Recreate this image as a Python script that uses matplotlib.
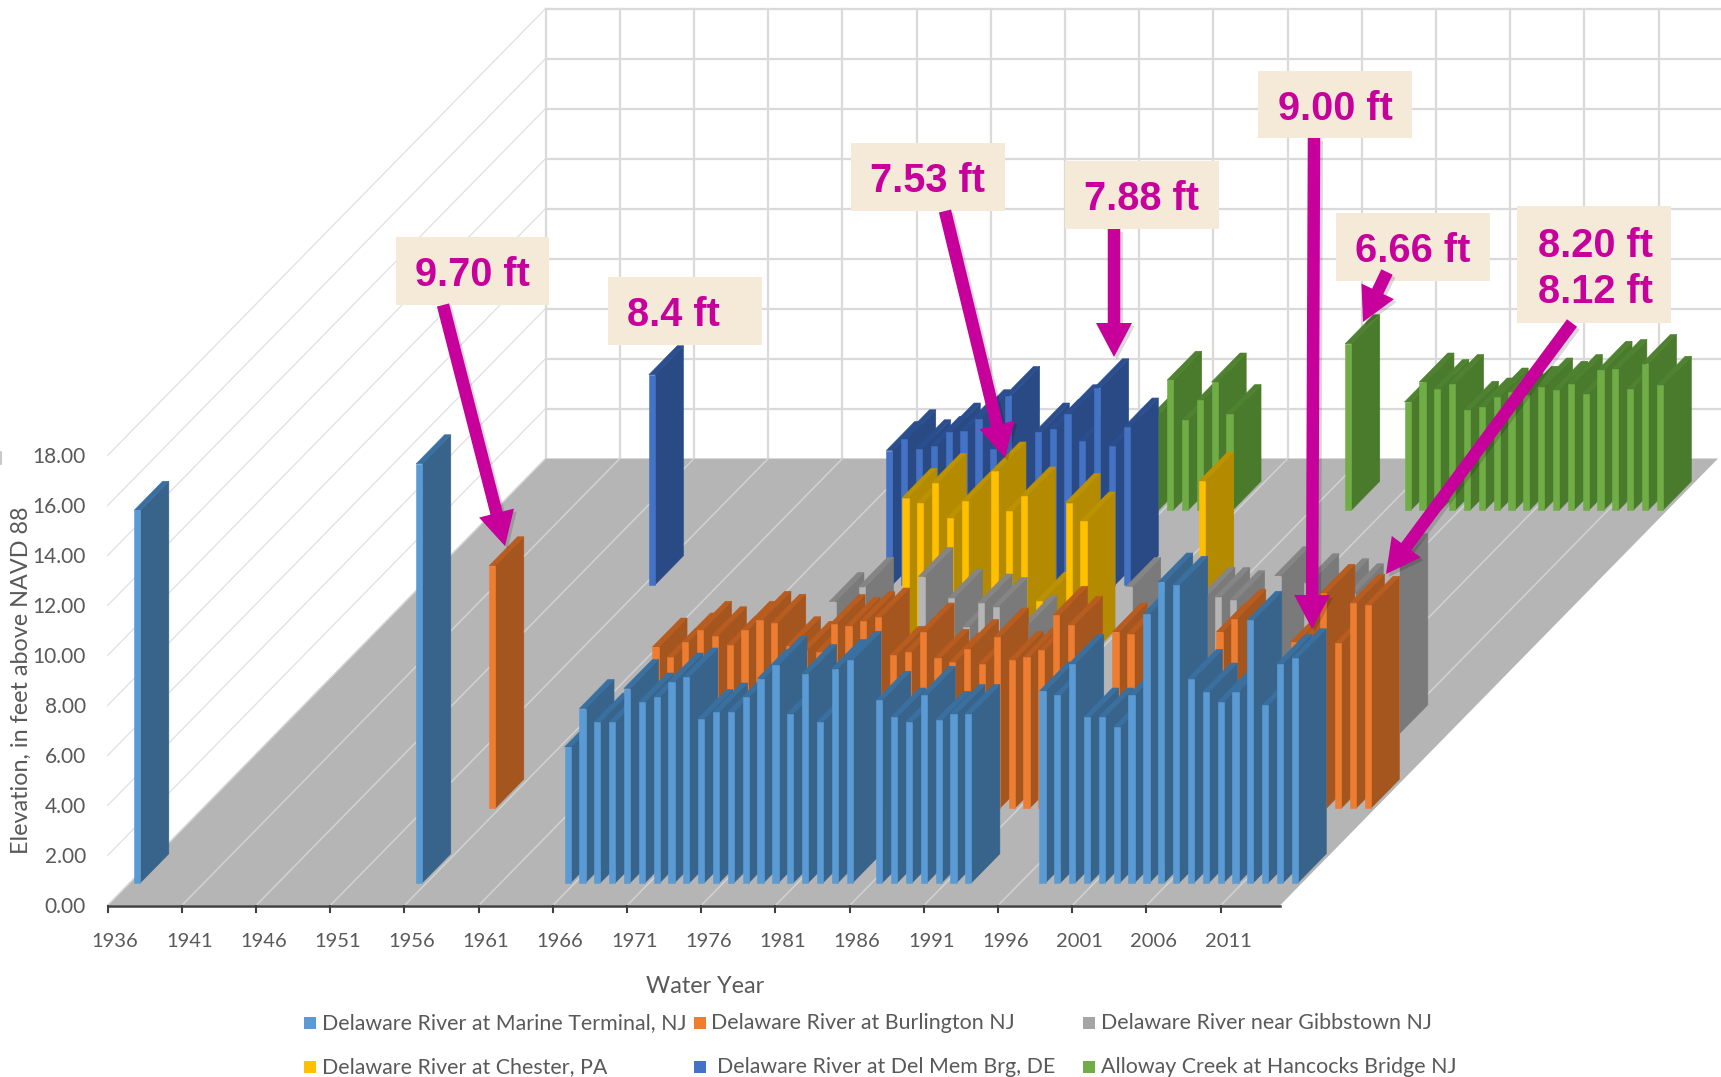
import matplotlib
matplotlib.use('Agg')
import matplotlib.pyplot as plt
import matplotlib.patheffects as pe
from matplotlib.patches import Polygon, Rectangle

# Peak water level per water year, feet above NAVD 88
marine_years = [1936, 1955] + list(range(1965, 1985)) + list(range(1986, 1993)) + list(range(1997, 2015))
marine_vals = [14.9, 16.76,
               5.43, 6.97, 6.43, 6.43, 7.77, 7.23, 7.43, 8.03, 8.23, 6.57,
               6.83, 6.83, 7.43, 8.17, 8.70, 6.77, 8.37, 6.43, 8.57, 8.90,
               7.30, 6.63, 6.43, 7.50, 6.50, 6.77, 6.77,
               7.67, 7.50, 8.77, 6.63, 6.63, 6.23, 7.50, 10.77, 12.03, 11.90,
               8.17, 7.63, 7.23, 7.63, 10.50, 7.10, 8.77, 9.00]

burlington_years = [1955, 1966, 1967, 1968, 1969, 1970, 1971, 1972, 1973, 1974, 1975, 1976, 1977,
                    1978, 1979, 1980, 1981, 1982, 1983, 1984, 1985, 1986, 1987, 1988, 1989, 1990,
                    1991, 1992, 1993, 1994, 1997, 1998, 2004, 2005, 2009, 2010, 2011, 2012, 2013, 2014]
burlington_vals = [9.70, 6.45, 6.05, 6.65, 7.12, 6.90, 6.52, 7.12, 7.52, 7.40, 6.50, 6.32, 6.25,
                   7.39, 7.28, 7.50, 7.65, 6.12, 6.25, 7.05, 6.00, 5.85, 6.39, 5.79, 6.85, 5.92,
                   6.05, 6.32, 7.72, 7.32, 7.05, 6.99, 7.05, 7.59, 6.65, 6.90, 8.60, 6.60, 8.20, 8.12]

gibbstown_years = [1973, 1975, 1979, 1981, 1982, 1983, 1984, 1986, 1993, 1998, 1999, 2000, 2003, 2005, 2007, 2008, 2011]
gibbstown_vals = [5.29, 5.89, 6.29, 5.43, 4.29, 5.23, 5.09, 4.36, 5.89, 5.50, 5.49, 5.36, 6.32, 6.04, 5.84, 5.64, 6.84]

chester_years = [1973, 1974, 1975, 1976, 1977, 1979, 1980, 1981, 1982, 1984, 1985, 1993]
chester_vals = [6.47, 6.27, 7.07, 5.67, 6.33, 7.53, 5.93, 6.53, 2.33, 6.27, 5.53, 7.13]

delmem_years = [1951, 1967, 1968, 1969, 1970, 1971, 1972, 1973, 1974, 1975, 1977, 1978, 1979, 1980, 1981, 1982, 1983]
delmem_vals = [8.40, 5.37, 5.84, 5.44, 5.57, 6.11, 6.17, 6.64, 5.44, 7.57, 6.11, 6.24, 6.84, 5.77, 7.88, 5.57, 6.31]

alloway_years = [1980, 1981, 1982, 1983, 1984, 1985, 1993] + list(range(1997, 2015))
alloway_vals = [3.84, 5.20, 3.60, 4.40, 5.13, 3.87, 6.66,
                4.33, 5.13, 4.87, 5.07, 4.00, 4.13, 4.53, 4.73, 4.60,
                4.93, 4.80, 5.07, 4.67, 5.60, 5.67, 4.87, 5.87, 5.00]

series_names = ['Delaware River at Marine Terminal, NJ', 'Delaware River at Burlington NJ',
                'Delaware River near Gibbstown NJ', 'Delaware River at Chester, PA',
                'Delaware River at Del Mem Brg, DE', 'Alloway Creek at Hancocks Bridge NJ']
series_years = [marine_years, burlington_years, gibbstown_years, chester_years, delmem_years, alloway_years]
series_vals = [marine_vals, burlington_vals, gibbstown_vals, chester_vals, delmem_vals, alloway_vals]

# front, side, top shades for each series
front_cols = ['#5B9BD5', '#ED7D31', '#B5B5B5', '#FFC000', '#4472C4', '#70AD47']
side_cols = ['#38648C', '#A5561F', '#7A7A7A', '#B38A00', '#2A4A86', '#4A7A2B']
top_cols = ['#3A70A0', '#B85C1F', '#858585', '#BC9200', '#2B4E8E', '#4F8230']

first_year = 1936
n_years = 79
y_ticks = [0, 2, 4, 6, 8, 10, 12, 14, 16, 18]

# oblique projection of the 3D column chart
x0, y0 = 107.6, 905.5
year_w = 14.84
ft_h = 25.0
slot_d = 74.5
bar_d = 29.0
bar_w = 6.2
skew = 0.98
n_slots = 6
total_d = slot_d * n_slots


def project(cat, depth, z):
    return x0 + cat * year_w + depth * skew, y0 - z * ft_h - depth


fig = plt.figure(figsize=(17.21, 10.77), dpi=100)
ax = fig.add_axes([0, 0, 1, 1])
ax.set_xlim(0, 1721)
ax.set_ylim(1077, 0)
ax.axis('off')

grid_col = '#DADADA'
txt_col = '#595959'

# floor
floor = [project(0, 0, 0), project(n_years, 0, 0), project(n_years, total_d, 0), project(0, total_d, 0)]
ax.add_patch(Polygon(floor, closed=True, fc='#B5B5B5', ec='none', zorder=1))

# walls
for v in y_ticks:
    if v == 0:
        continue
    a = project(0, 0, v)
    b = project(0, total_d, v)
    c = project(n_years, total_d, v)
    ax.plot([a[0], b[0]], [a[1], b[1]], color='#E0E0E0', lw=0.9, zorder=0.5)
    ax.plot([b[0], 1721], [b[1], c[1]], color=grid_col, lw=1.6, zorder=0.5)
for cat in range(0, n_years, 5):
    a = project(cat, total_d, 0)
    b = project(cat, total_d, 18)
    ax.plot([a[0], b[0]], [a[1], b[1]], color=grid_col, lw=1.6, zorder=0.5)
    f = project(cat, 0, 0)
    ax.plot([f[0], a[0]], [f[1], a[1]], color='#D2D2D2', lw=1.1, zorder=1.1)

# columns, rear series first, left to right inside a series
order = 2
for s in range(n_slots - 1, -1, -1):
    d1 = slot_d * s + (slot_d - bar_d) / 2
    d2 = d1 + bar_d
    pad = (1 - bar_w / year_w) / 2
    for yr, val in zip(series_years[s], series_vals[s]):
        c1 = yr - first_year + pad
        c2 = c1 + bar_w / year_w
        side = [project(c2, d1, 0), project(c2, d2, 0), project(c2, d2, val), project(c2, d1, val)]
        top = [project(c1, d1, val), project(c2, d1, val), project(c2, d2, val), project(c1, d2, val)]
        front = [project(c1, d1, 0), project(c2, d1, 0), project(c2, d1, val), project(c1, d1, val)]
        ax.add_patch(Polygon(side, closed=True, fc=side_cols[s], ec=side_cols[s], lw=0.4, zorder=order))
        ax.add_patch(Polygon(top, closed=True, fc=top_cols[s], ec=top_cols[s], lw=0.4, zorder=order))
        ax.add_patch(Polygon(front, closed=True, fc=front_cols[s], ec=front_cols[s], lw=0.4, zorder=order))
        order += 0.01

# value axis labels
for v in y_ticks:
    ax.text(86, project(0, 0, v)[1] + 1.5, '%.2f' % v, ha='right', va='center', fontsize=15,
            family='Lato', color=txt_col, zorder=50)
ax.text(21, 680, 'Elevation, in feet above NAVD 88', rotation=90, ha='center', va='center',
        fontsize=16.8, family='Lato', color=txt_col, zorder=50)
ax.plot([1, 1], [452, 464], color='#BFBFBF', lw=1.2, zorder=50)

# year axis
ax.plot([x0, project(n_years, 0, 0)[0]], [y0, y0], color='#404040', lw=1.8, zorder=50)
for cat in range(0, n_years, 5):
    xt = project(cat, 0, 0)[0]
    ax.plot([xt, xt], [y0, y0 + 6], color='#404040', lw=1.5, zorder=50)
    if cat < 76:
        ax.text(xt + year_w / 2, 941.5, str(first_year + cat), ha='center', va='center',
                fontsize=14.5, family='Lato', color=txt_col, zorder=50)
ax.text(705, 986.5, 'Water Year', ha='center', va='center', fontsize=16.8, family='Lato',
        color=txt_col, zorder=50)

# legend
legend_marks = [304, 694, 1083, 304, 694, 1083]
legend_text = [322, 711, 1101, 322, 717, 1101]
legend_rows = [1023, 1023, 1023, 1067, 1067, 1067]
for i in range(n_slots):
    ax.add_patch(Rectangle((legend_marks[i], legend_rows[i] - 6), 12, 12, fc=front_cols[i] if i != 2 else '#A5A5A5',
                           ec='none', zorder=50))
    ax.text(legend_text[i], legend_rows[i], series_names[i], ha='left', va='center', fontsize=15.4,
            family='Lato', color=txt_col, zorder=50)

# callouts: label, box left/top/right/bottom
callout_labels = ['9.70 ft', '8.4 ft', '7.53 ft', '7.88 ft', '9.00 ft', '6.66 ft', '8.20 ft\n8.12 ft']
callout_boxes = [(396, 237, 549, 305), (608, 277, 762, 345), (851, 143, 1005, 211), (1065, 161, 1219, 229),
                 (1258, 71, 1412, 138), (1336, 213, 1490, 281), (1517, 206, 1671, 323)]
callout_text_x = [472, 673, 927, 1141.5, 1335, 1413, 1595]
arrow_tails = [(443, 305), None, (945, 211), (1114, 229), (1314, 138), (1387, 272), (1572, 323)]
arrow_tips = [(505, 546), None, (1005, 458), (1114, 357), (1312, 629), (1363, 322), (1386, 574)]
magenta = '#C8009B'
for i in range(len(callout_labels)):
    l, t, r, b = callout_boxes[i]
    ax.add_patch(Rectangle((l, t), r - l, b - t, fc='#F5E9D7', ec='none', zorder=60))
    if arrow_tails[i] is not None:
        tx, ty = arrow_tails[i]
        hx, hy = arrow_tips[i]
        ax.arrow(tx, ty, hx - tx, hy - ty, width=12.5, head_width=36, head_length=34,
                 length_includes_head=True, fc=magenta, ec='none', zorder=61,
                 path_effects=[pe.SimplePatchShadow(offset=(2, -2), shadow_rgbFace='k', alpha=0.15), pe.Normal()])
    ax.text(callout_text_x[i], (t + b) / 2 + 4.5, callout_labels[i], ha='center', va='center', fontsize=28.6,
            fontweight='bold', family='Liberation Sans', color=magenta, linespacing=1.247, zorder=62)

fig.savefig('out.png', dpi=100, facecolor='white')
